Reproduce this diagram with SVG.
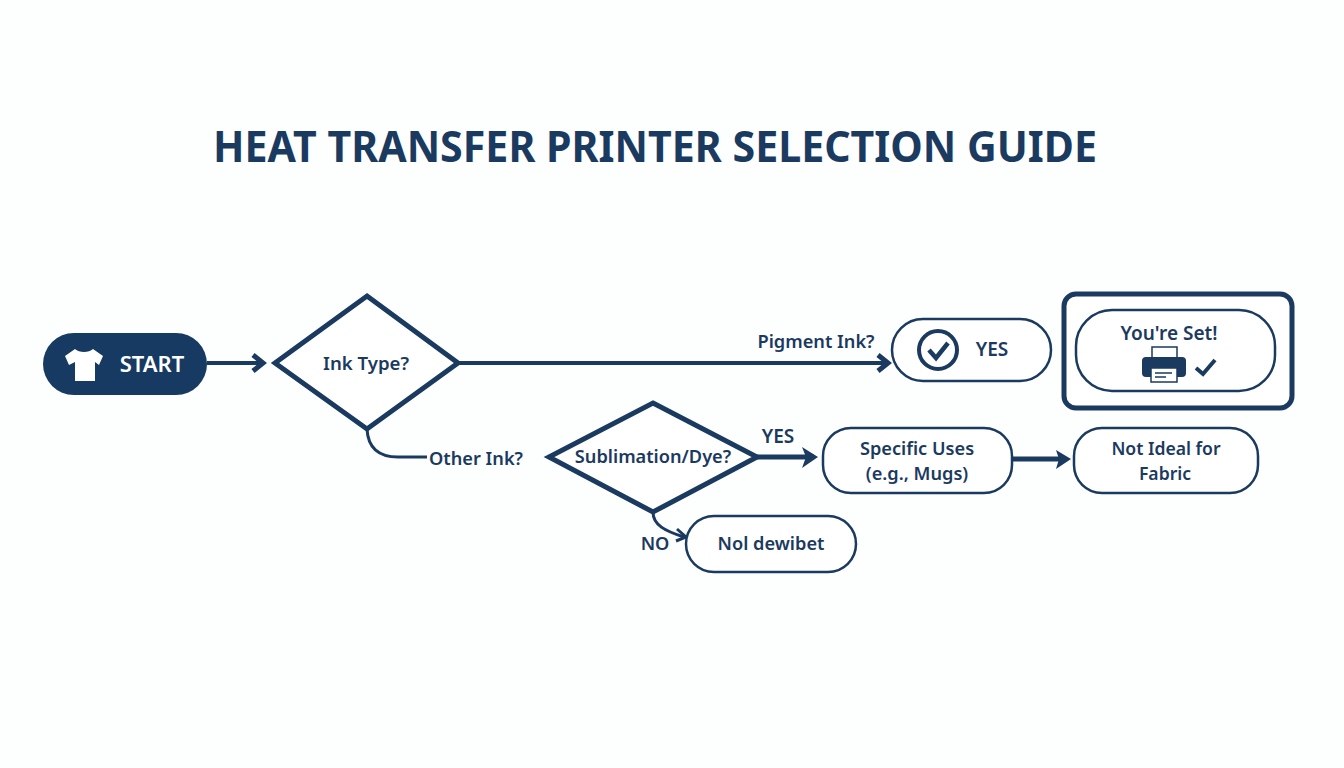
<svg xmlns="http://www.w3.org/2000/svg" width="1344" height="768" viewBox="0 0 1344 768">
<style>
text{font-family:"Noto Sans","Open Sans","Liberation Sans",sans-serif;font-weight:600;fill:#1b3a5f;text-anchor:middle}
.t{font-size:18.2px}
.s{fill:#fff;stroke:#1b3a5f;stroke-width:2.5}
.d{fill:#fff;stroke:#1b3a5f;stroke-width:5;stroke-linejoin:miter}
.c{fill:none;stroke:#1b3a5f;stroke-width:4}
.a{fill:none;stroke:#1b3a5f;stroke-width:5;stroke-linejoin:miter}
</style>
<rect width="1344" height="768" fill="#fdfefe"/>
<text id="title" x="655" y="162" style="font-size:43px;font-weight:700" textLength="884" lengthAdjust="spacingAndGlyphs">HEAT TRANSFER PRINTER SELECTION GUIDE</text>
<g id="connectors">
<path class="c" d="M207 363H260"/><path class="a" d="M253 355L263 363L253 371"/>
<path class="c" d="M458 363H884"/><path class="a" d="M878 355L888 363L878 371"/>
<path class="c" style="stroke-width:3" d="M367 429C368 448 378 457 398 457H427"/>
<path class="c" style="stroke-width:5" d="M757 457H814"/><path d="M802 447L818 457L802 468L806 457Z" fill="#1b3a5f"/>
<path class="c" style="stroke-width:5" d="M1012 459H1066"/><path d="M1056 450L1071 459L1056 469L1059 459Z" fill="#1b3a5f"/>
<path class="c" style="stroke-width:3" d="M653 512C653 525 665 531 684 537"/><path class="a" style="stroke-width:3" d="M677 529L686 537L676 541"/>
</g>
<g id="start">
<rect x="43" y="333" width="164" height="62" rx="31" fill="#163a62"/>
<path d="M75 349L65 356L69 365L75 362V381H95V362L99 365L103 356L93 349C89 353 79 353 75 349Z" fill="#fff"/>
<text x="152" y="372" style="font-size:22px;fill:#fff">START</text>
</g>
<g id="ink-type">
<polygon class="d" points="367,296 458,363 367,429 275,363"/>
<text class="t" x="366" y="370" style="font-size:18.6px">Ink Type?</text>
</g>
<g id="label-pigment"><text class="t" x="816" y="348">Pigment Ink?</text></g>
<g id="label-other"><text class="t" x="476" y="465">Other Ink?</text></g>
<g id="yes-top">
<rect class="s" x="892" y="319" width="159" height="62" rx="31"/>
<circle cx="938" cy="350" r="19" fill="none" stroke="#1b3a5f" stroke-width="4"/>
<path d="M929 350L936 358L948 343" fill="none" stroke="#1b3a5f" stroke-width="4.5"/>
<text x="992" y="356" style="font-size:19px">YES</text>
</g>
<g id="youre-set">
<rect x="1064" y="294" width="228" height="114" rx="12" fill="#fff" stroke="#1b3a5f" stroke-width="5"/>
<rect class="s" x="1076" y="310" width="199" height="81" rx="36"/>
<text x="1169" y="340" style="font-size:19px">You're Set!</text>
<rect x="1152" y="347" width="25" height="12" fill="#fff" stroke="#1b3a5f" stroke-width="1.5"/>
<rect x="1142" y="357" width="44" height="20" rx="4" fill="#1b3a5f"/>
<rect x="1151" y="368" width="26" height="14" fill="#fff" stroke="#1b3a5f" stroke-width="1.5"/>
<path d="M1155 373H1172M1155 377H1166" stroke="#1b3a5f" stroke-width="1.5" fill="none"/>
<path d="M1196 368L1203 374L1215 360" fill="none" stroke="#1b3a5f" stroke-width="4"/>
</g>
<g id="sublimation">
<polygon class="d" points="653,403 757,457 653,512 549,457"/>
<text class="t" x="653" y="463">Sublimation/Dye?</text>
</g>
<g id="label-yes"><text x="778" y="443" style="font-size:19px">YES</text></g>
<g id="specific-uses">
<rect class="s" x="823" y="428" width="189" height="65" rx="28"/>
<text class="t" x="917" y="455">Specific Uses</text>
<text class="t" x="917" y="479.5">(e.g., Mugs)</text>
</g>
<g id="not-ideal">
<rect class="s" x="1074" y="428" width="184" height="65" rx="28"/>
<text class="t" x="1166" y="455" style="font-size:17.6px">Not Ideal for</text>
<text class="t" x="1165" y="479.5" style="font-size:17.6px">Fabric</text>
</g>
<g id="label-no"><text class="t" x="655" y="550">NO</text></g>
<g id="not-dewibet">
<rect class="s" x="686" y="516" width="170" height="56" rx="28"/>
<text class="t" x="771" y="550">Nol dewibet</text>
</g>
</svg>
